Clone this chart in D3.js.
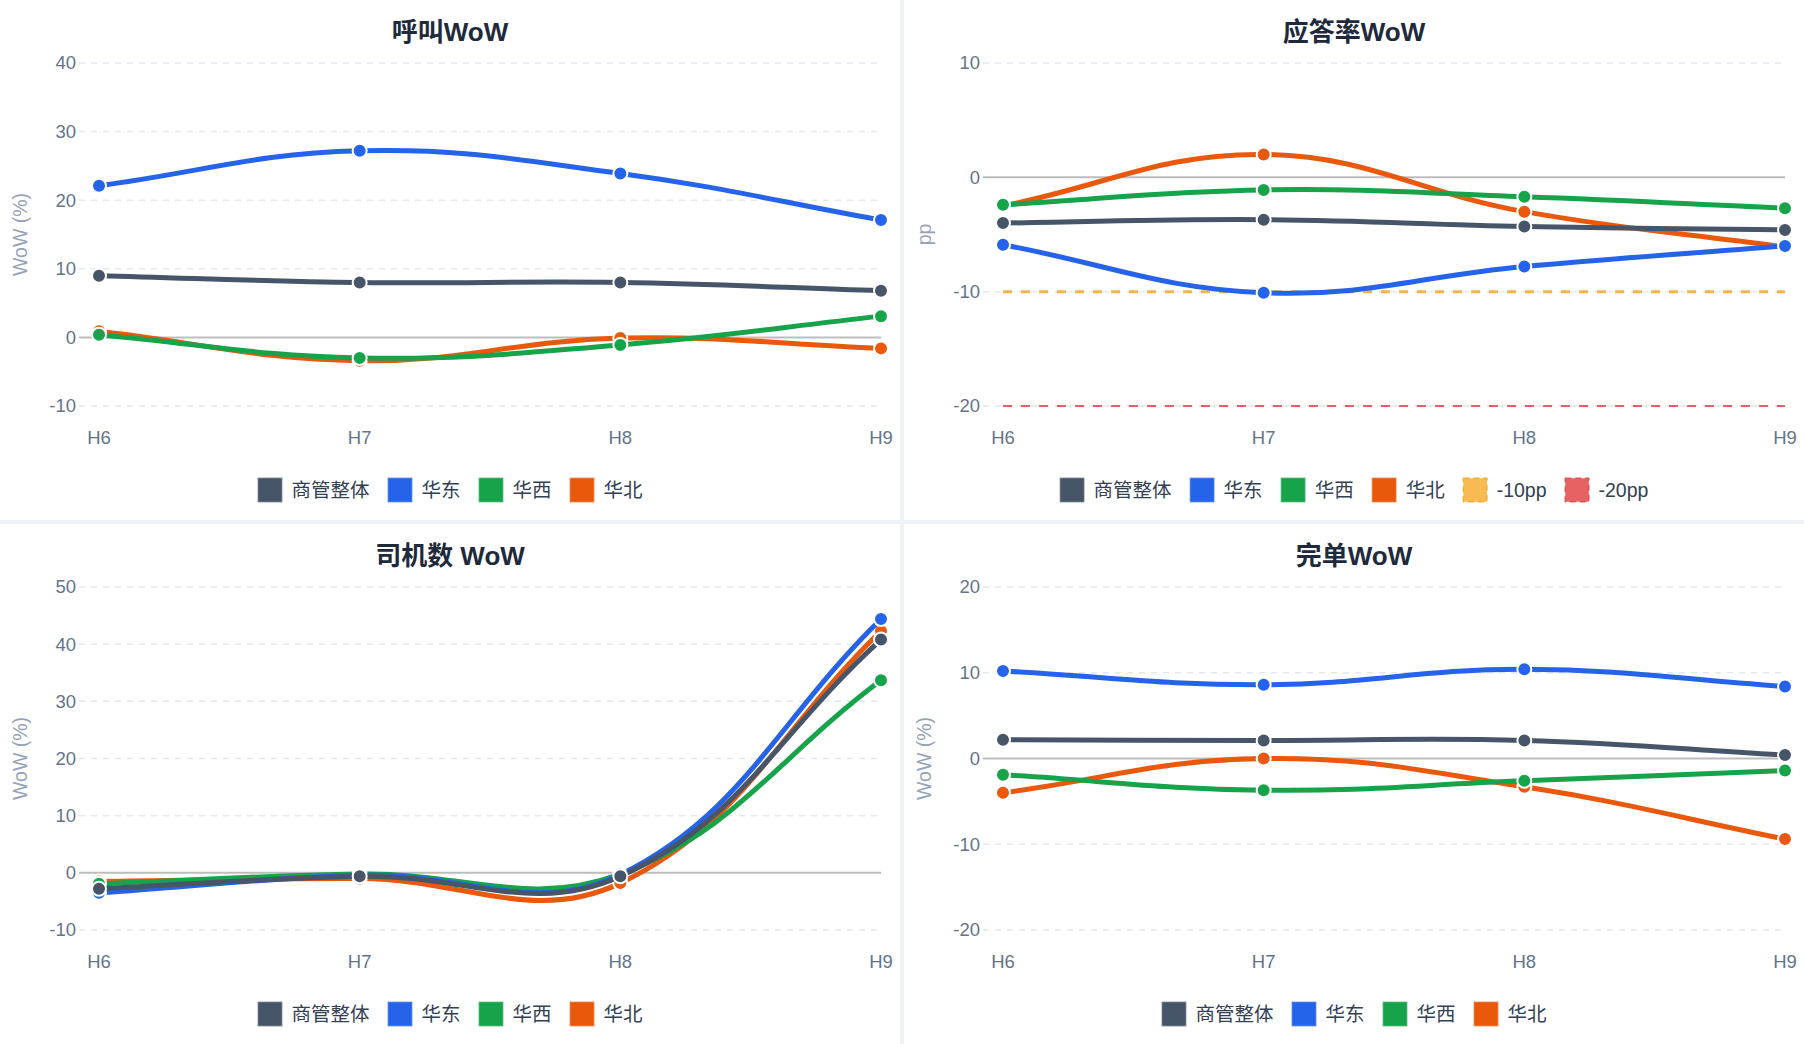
<!DOCTYPE html>
<html>
<head>
<meta charset="utf-8">
<script src="https://cdn.jsdelivr.net/npm/d3@7"></script>
<style>
  body { margin: 0; background: #eef2f7; }
  svg { display: block; }
  text { font-family: "Liberation Sans", "Noto Sans CJK SC", Arial, sans-serif; }
</style>
</head>
<body>
<script>
// ---- data ----
var weeks = ["H6", "H7", "H8", "H9"];
var seriesNames = ["商管整体", "华东", "华西", "华北"];
var seriesColors = ["#475569", "#2563eb", "#16a34a", "#ea580c"];

// 呼叫WoW (%)
var callOverall = [9.0, 8.0, 8.0, 6.8];
var callEast = [22.1, 27.2, 23.9, 17.1];
var callWest = [0.4, -3.0, -1.1, 3.1];
var callNorth = [0.9, -3.4, -0.1, -1.6];
var callTicks = [-10, 0, 10, 20, 30, 40];

// 应答率WoW (pp)
var answerOverall = [-4.0, -3.7, -4.3, -4.6];
var answerEast = [-5.9, -10.1, -7.8, -6.0];
var answerWest = [-2.4, -1.1, -1.7, -2.7];
var answerNorth = [-2.5, 2.0, -3.0, -6.1];
var answerTicks = [-20, -10, 0, 10];
var refNames = ["-10pp", "-20pp"];
var refValues = [-10, -20];

// 司机数 WoW (%)
var driverOverall = [-2.8, -0.6, -0.6, 40.8];
var driverEast = [-3.5, -0.4, -0.3, 44.4];
var driverWest = [-1.9, -0.2, -0.2, 33.7];
var driverNorth = [-1.5, -1.0, -1.8, 42.3];
var driverTicks = [-10, 0, 10, 20, 30, 40, 50];

// 完单WoW (%)
var orderOverall = [2.2, 2.1, 2.1, 0.4];
var orderEast = [10.2, 8.6, 10.4, 8.4];
var orderWest = [-1.9, -3.7, -2.6, -1.4];
var orderNorth = [-4.0, 0.0, -3.3, -9.4];
var orderTicks = [-20, -10, 0, 10, 20];

var panels = [
  { title: "呼叫WoW", yTitle: "WoW (%)", ticks: callTicks,
    values: [callOverall, callEast, callWest, callNorth], refs: false },
  { title: "应答率WoW", yTitle: "pp", ticks: answerTicks,
    values: [answerOverall, answerEast, answerWest, answerNorth], refs: true },
  { title: "司机数 WoW", yTitle: "WoW (%)", ticks: driverTicks,
    values: [driverOverall, driverEast, driverWest, driverNorth], refs: false },
  { title: "完单WoW", yTitle: "WoW (%)", ticks: orderTicks,
    values: [orderOverall, orderEast, orderWest, orderNorth], refs: false }
];

var refStroke = ["rgba(245,158,11,0.75)", "rgba(225,60,60,0.8)"];
var refFill = ["rgba(245,158,11,0.7)", "rgba(225,60,60,0.8)"];
var refWidth = [3, 2];

// ---- layout ----
var W = 1804, H = 1044;
var panelW = 900, panelH = 520, gap = 4;
var plotL = 99, plotR = 881, plotT = 63, plotB = 406;

var svg = d3.select("body").append("svg")
  .attr("width", W)
  .attr("height", H);

svg.append("rect")
  .attr("width", W).attr("height", H)
  .attr("fill", "#eef2f7");

// same smoothing as a tension 0.4 spline, control points kept inside the plot
var splinePath = function(pts) {
  var t = 0.4;
  var cx = function(v) { return Math.max(plotL, Math.min(plotR, v)); };
  var cy = function(v) { return Math.max(plotT, Math.min(plotB, v)); };
  var cps = pts.map(function(p, i) {
    var prev = pts[i - 1] || p;
    var next = pts[i + 1] || p;
    var d01 = Math.hypot(p[0] - prev[0], p[1] - prev[1]);
    var d12 = Math.hypot(next[0] - p[0], next[1] - p[1]);
    var s01 = d01 / (d01 + d12) || 0;
    var s12 = d12 / (d01 + d12) || 0;
    var dx = next[0] - prev[0], dy = next[1] - prev[1];
    return {
      px: cx(p[0] - t * s01 * dx), py: cy(p[1] - t * s01 * dy),
      nx: cx(p[0] + t * s12 * dx), ny: cy(p[1] + t * s12 * dy)
    };
  });
  var path = d3.path();
  path.moveTo(pts[0][0], pts[0][1]);
  for (var i = 1; i < pts.length; i++) {
    path.bezierCurveTo(cps[i - 1].nx, cps[i - 1].ny, cps[i].px, cps[i].py, pts[i][0], pts[i][1]);
  }
  return path.toString();
};

var drawPanel = function(cfg, idx) {
  var ox = (idx % 2) * (panelW + gap);
  var oy = Math.floor(idx / 2) * (panelH + gap);
  var g = svg.append("g").attr("transform", "translate(" + ox + "," + oy + ")");

  g.append("rect")
    .attr("width", panelW).attr("height", panelH)
    .attr("fill", "#ffffff");

  var x = d3.scalePoint().domain(weeks).range([plotL, plotR]);
  var y = d3.scaleLinear().domain(d3.extent(cfg.ticks)).range([plotB, plotT]);

  // title
  g.append("text")
    .attr("x", panelW / 2).attr("y", 41)
    .attr("text-anchor", "middle")
    .attr("font-size", 26).attr("font-weight", "bold")
    .attr("fill", "#1e293b")
    .text(cfg.title);

  // grid + y ticks
  cfg.ticks.forEach(function(t) {
    var zero = t === 0;
    g.append("line")
      .attr("x1", plotL - 20).attr("x2", plotR)
      .attr("y1", y(t)).attr("y2", y(t))
      .attr("stroke", zero ? "#bdbdbd" : "#e2e8f0")
      .attr("stroke-width", zero ? 2 : 1.5)
      .attr("stroke-dasharray", zero ? null : "6,6");
    g.append("text")
      .attr("x", plotL - 23).attr("y", y(t))
      .attr("dy", "0.35em")
      .attr("text-anchor", "end")
      .attr("font-size", 18.5).attr("fill", "#64748b")
      .text(t);
  });

  // x labels
  weeks.forEach(function(w) {
    g.append("text")
      .attr("x", x(w)).attr("y", 438)
      .attr("dy", "0.35em")
      .attr("text-anchor", "middle")
      .attr("font-size", 18.5).attr("fill", "#64748b")
      .text(w);
  });

  // y title
  g.append("text")
    .attr("transform", "translate(20," + ((plotT + plotB) / 2) + ") rotate(-90)")
    .attr("dy", "0.35em")
    .attr("text-anchor", "middle")
    .attr("font-size", 19.5).attr("fill", "#94a3b8")
    .text(cfg.yTitle);

  // reference lines (drawn underneath)
  if (cfg.refs) {
    var refLine = d3.line().x(function(d) { return x(d.w); }).y(function(d) { return y(d.v); });
    refValues.forEach(function(v, i) {
      g.append("path")
        .attr("d", refLine(weeks.map(function(w) { return { w: w, v: v }; })))
        .attr("fill", "none")
        .attr("stroke", refStroke[i])
        .attr("stroke-width", refWidth[i])
        .attr("stroke-dasharray", "9,9");
    });
  }

  // series, last one first so 商管整体 ends on top
  for (var s = seriesNames.length - 1; s >= 0; s--) {
    var pts = cfg.values[s].map(function(v, i) { return [x(weeks[i]), y(v)]; });
    g.append("path")
      .attr("d", splinePath(pts))
      .attr("fill", "none")
      .attr("stroke", seriesColors[s])
      .attr("stroke-width", 5)
      .attr("stroke-linecap", "round");
    g.selectAll(null)
      .data(pts)
      .enter().append("circle")
      .attr("cx", function(d) { return d[0]; })
      .attr("cy", function(d) { return d[1]; })
      .attr("r", 7)
      .attr("fill", seriesColors[s])
      .attr("stroke", "#ffffff")
      .attr("stroke-width", 2);
  }

  // legend
  var items = seriesNames.map(function(n, i) {
    return { name: n, fill: seriesColors[i], stroke: seriesColors[i], dash: null };
  });
  if (cfg.refs) {
    refNames.forEach(function(n, i) {
      items.push({ name: n, fill: refFill[i], stroke: refStroke[i], dash: "6,4" });
    });
  }
  var leg = g.append("g");
  var cursor = 0;
  items.forEach(function(it) {
    var item = leg.append("g").attr("transform", "translate(" + cursor + ",0)");
    item.append("rect")
      .attr("x", 0.75).attr("y", -11.75)
      .attr("width", 23.5).attr("height", 23.5)
      .attr("fill", it.fill)
      .attr("stroke", it.stroke)
      .attr("stroke-opacity", it.dash ? 1 : 0.55)
      .attr("stroke-width", 1.5)
      .attr("stroke-dasharray", it.dash);
    var label = item.append("text")
      .attr("x", 34).attr("y", 0)
      .attr("dy", "0.35em")
      .attr("font-size", 19.5).attr("fill", "#334155")
      .text(it.name);
    cursor += 34 + label.node().getComputedTextLength() + 18;
  });
  var legW = cursor - 18;
  leg.attr("transform", "translate(" + (panelW / 2 - legW / 2) + ",490)");
};

panels.forEach(drawPanel);
</script>
</body>
</html>
